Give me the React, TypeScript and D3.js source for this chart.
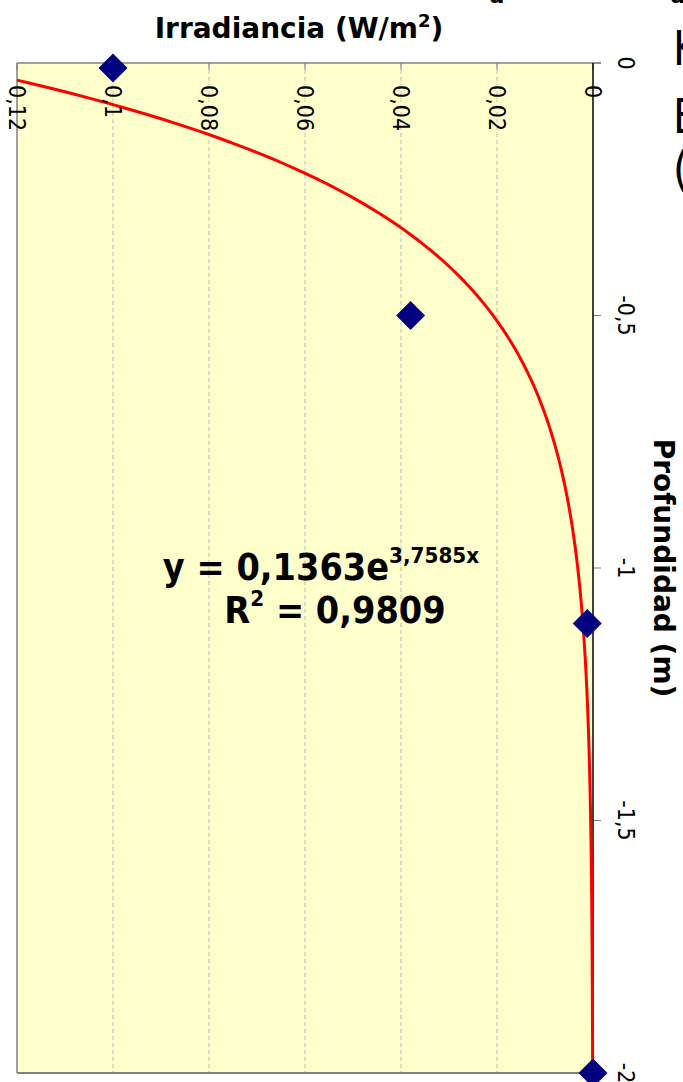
import React from "react"
import * as d3 from "d3"

// measured points: depth (m) and irradiance (W/m2)
const depths = [-0.01, -0.5, -1.11, -2]
const irradiance = [0.1, 0.038, 0.0012, 0]

const irrTicks = [0, 0.02, 0.04, 0.06, 0.08, 0.1, 0.12]
const irrTickLabels = ["0", "0,02", "0,04", "0,06", "0,08", "0,1", "0,12"]
const depthTicks = [0, -0.5, -1, -1.5, -2]
const depthTickLabels = ["0", "-0,5", "-1", "-1,5", "-2"]

// trendline shown on the chart: y = 0,1363 e^(3,7585x)
const fitA = 0.1363
const fitB = 3.7585

const W = 683
const H = 1082
const plot = { left: 17, right: 593, top: 63, bottom: 1073 }

const App: React.FC = () => {
  const x = d3.scaleLinear().domain([0, 0.12]).range([plot.right, plot.left])
  const y = d3.scaleLinear().domain([0, -2]).range([plot.top, plot.bottom])

  const dMax = Math.log(0.12 / fitA) / fitB
  const curveDepths = d3.range(-2, dMax, 0.01).concat([dMax])
  const line = d3.line<number>()
    .x(d => x(fitA * Math.exp(fitB * d)))
    .y(d => y(d))

  const diamond = d3.symbol(d3.symbolSquare, 420)()

  const font = "'DejaVu Sans', Verdana, sans-serif"

  return (
    <svg width={W} height={H} style={{ position: "absolute", left: 0, top: 0, background: "#fff" }}>
      {/* slide text fragments */}
      <text x={497} y={3} fontFamily={font} fontSize={22} fontWeight="bold" textAnchor="middle">a</text>
      <text x={678} y={3} fontFamily={font} fontSize={22} fontWeight="bold" textAnchor="middle">a</text>
      <g fontFamily={font} fontSize={48}>
        <text transform="translate(673,65) scale(0.85,1)">K</text>
        <text transform="translate(673,133) scale(0.85,1)">E</text>
        <text transform="translate(673,186) scale(0.85,1)">(</text>
      </g>

      <rect x={plot.left} y={plot.top} width={plot.right - plot.left} height={plot.bottom - plot.top} fill="#ffffcc" />

      {irrTicks.slice(1, -1).map(t => (
        <line key={t} x1={x(t)} x2={x(t)} y1={plot.top} y2={plot.bottom}
          stroke="#c0c0c0" strokeDasharray="4,3" />
      ))}
      {irrTicks.map(t => (
        <line key={"t" + t} x1={x(t)} x2={x(t)} y1={plot.top} y2={plot.top + 7} stroke="#808080" />
      ))}

      <line x1={plot.left} x2={plot.right + 8} y1={plot.top} y2={plot.top} stroke="#808080" strokeWidth={1.5} />
      <line x1={plot.left} x2={plot.left} y1={plot.top} y2={plot.bottom} stroke="#808080" strokeWidth={1.5} />
      <line x1={plot.left} x2={plot.right} y1={plot.bottom} y2={plot.bottom} stroke="#808080" strokeWidth={2} />
      {depthTicks.map(t => (
        <line key={"d" + t} x1={plot.right} x2={plot.right + 8} y1={y(t)} y2={y(t)} stroke="#808080" />
      ))}
      <line x1={plot.right} x2={plot.right} y1={plot.top} y2={plot.bottom} stroke="#000" strokeWidth={1.5} />

      <path d={line(curveDepths) || ""} fill="none" stroke="#ff0000" strokeWidth={3} />

      {depths.map((d, i) => (
        <path key={i} d={diamond || ""} fill="#000080"
          transform={`translate(${x(irradiance[i])},${y(d)}) rotate(45)`} />
      ))}

      <g fontFamily={font} fontSize={23} fill="#000">
        {irrTicks.map((t, i) => (
          <text key={t} transform={`translate(${x(t)},85) rotate(90) scale(0.9,1)`} dominantBaseline="central">
            {irrTickLabels[i]}
          </text>
        ))}
        {depthTicks.map((t, i) => (
          <text key={t} transform={`translate(626,${y(t)}) rotate(90) scale(0.9,1)`}
            textAnchor="middle" dominantBaseline="central">
            {depthTickLabels[i]}
          </text>
        ))}
      </g>

      <g fontFamily={font} fontWeight="bold" fill="#000">
        <text transform="translate(299,38)" fontSize={28} textAnchor="middle">
          Irradiancia (W/m<tspan fontSize={18} dy={-11}>2</tspan><tspan dy={11}>)</tspan>
        </text>
        <text transform="translate(663,568) rotate(90)" fontSize={28}
          textAnchor="middle" dominantBaseline="central">
          Profundidad (m)
        </text>
        <text transform="translate(321,580) scale(0.91,1)" fontSize={37} textAnchor="middle">
          y = 0,1363e<tspan fontSize={22} dy={-17}>3,7585x</tspan>
        </text>
        <text transform="translate(335,623) scale(0.91,1)" fontSize={37} textAnchor="middle">
          R<tspan fontSize={22} dy={-17}>2</tspan><tspan dy={17}> = 0,9809</tspan>
        </text>
      </g>
    </svg>
  )
}

export default App
